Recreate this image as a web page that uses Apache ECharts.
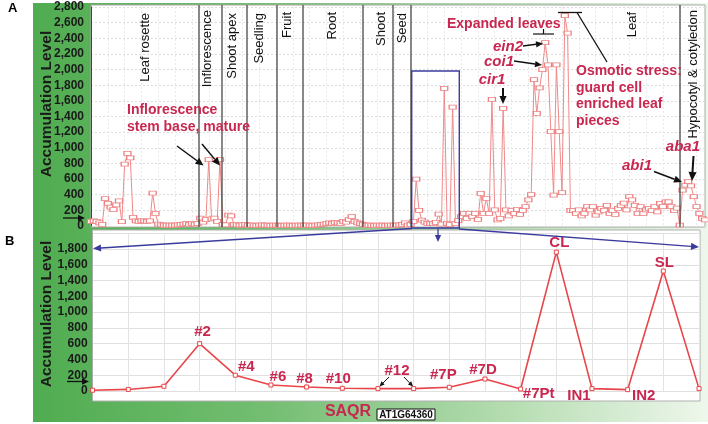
<!DOCTYPE html>
<html><head><meta charset="utf-8">
<script src="https://cdn.jsdelivr.net/npm/echarts@6/dist/echarts.min.js"></script>
<style>html,body{margin:0;padding:0;background:#fff}#c{width:708px;height:424px}</style>
</head><body><div id="c"></div>
<script>
// ---------- DATA ----------
// Panel A: expression across the developmental / tissue atlas (left to right)
const valuesA = [
  60,65,60,40,20,350,290,240,210,270,320,55,790,930,870,110,65,60,65,65,60,65,420,160,25,15,10,10,10,12,10,15,20,25,30,20,35,25,30,
  100,50,80,850,90,100,60,850,20,15,140,130,20,15,10,
  15,20,10,12,10,8,10,15,12,10,8,10,12,10,8,10,12,10,8,10,10,12,
  10,12,10,8,10,15,20,25,30,40,35,45,40,30,60,50,80,120,60,40,30,20,
  10,12,10,8,10,12,10,8,10,12,
  10,12,15,20,40,
  10,20,60,600,200,76,51,34,30,30,47,152,25,1760,30,17,1520,30,
  68,119,162,98,162,119,162,85,418,162,354,160,1620,205,77,98,1505,205,128,196,162,213,150,200,247,333,
  400,1870,1440,1765,2000,2345,2060,1206,396,2060,1206,426,2690,2465,200,
  196,162,205,130,162,247,205,247,140,180,225,200,265,162,196,150,225,260,294,205,375,333,265,162,247,162,205,225,196,247,180,290,247,310,310,247,196,230,
  10,460,524,567,512,375,247,162,98,77
];
const categoriesA = valuesA.map((_, i) => 'S' + (i + 1));

// Panel B: zoomed leaf samples
const pointNamesB = ['', '', '', '#2', '#4', '#6', '#8', '#10', '#12', '', '#7P', '#7D', '#7Pt', 'CL', 'IN1', 'IN2', 'SL', ''];
const valuesB = [10, 20, 60, 600, 200, 76, 51, 34, 30, 30, 47, 152, 25, 1760, 30, 17, 1520, 30];
const categoriesB = valuesB.map((_, i) => 'P' + (i + 1));

const sectionNames = ['Leaf rosette', 'Inflorescence', 'Shoot apex', 'Seedling', 'Fruit', 'Root', 'Shoot', 'Seed', 'Leaf', 'Hypocotyl & cotyledon'];
const yTickStepA = 200, yMaxA = 2800;
const yTickStepB = 200, yMaxB = 2000;

// ---------- STYLE / LAYOUT ----------
const FONT = '"Liberation Sans", Arial, Helvetica, sans-serif';
const CRIMSON = '#C8274F';
const sectionLabelPos = [[145, 13], [207, 10], [232, 13], [259, 13], [287, 12], [332, 12], [381, 12], [402, 13], [632, 12], [693, 10]];
const dividerX = [199, 222, 247, 277, 303, 363, 393, 411, 680];
const labelOffsetB = {'#2': [3, -12], '#4': [11, -8], '#6': [7, -8], '#8': [-2, -8], '#10': [-4, -9], '#12': [19, -18],
  '#7P': [-6, -12], '#7D': [-2, -9], '#7Pt': [18, 5], 'CL': [3, -9], 'IN1': [-13, 7], 'IN2': [16, 6], 'SL': [1, -8]};

function T(x, y, text, o) {
  o = o || {};
  const align = o.align || 'left', valign = o.valign || 'middle';
  return {type: 'text', x: x, y: y, rotation: o.rot || 0, z: 30,
    style: {text: text, fill: o.color || CRIMSON, fontSize: o.size || 14, fontWeight: o.weight || 'bold',
      fontStyle: o.style || 'normal', fontFamily: FONT, textAlign: align, textVerticalAlign: valign,
      align: align, verticalAlign: valign}};
}
function L(x1, y1, x2, y2, color, w) {
  return {type: 'line', z: 25, shape: {x1: x1, y1: y1, x2: x2, y2: y2}, style: {stroke: color, lineWidth: w}};
}
function arrow(x1, y1, x2, y2, color, w, hl) {
  const a = Math.atan2(y2 - y1, x2 - x1);
  const hw = hl * 0.45;
  const bx = x2 - hl * Math.cos(a), by = y2 - hl * Math.sin(a);
  const px = -Math.sin(a) * hw, py = Math.cos(a) * hw;
  return [L(x1, y1, bx, by, color, w),
    {type: 'polygon', z: 25, shape: {points: [[x2, y2], [bx + px, by + py], [bx - px, by - py]]}, style: {fill: color}}];
}

const g = [];
// green frame background
g.push({type: 'rect', z: -10, shape: {x: 33, y: 3, width: 675, height: 419},
  style: {fill: {type: 'linear', x: 0, y: 0, x2: 1, y2: 0, colorStops: [
    {offset: 0, color: '#50AC50'}, {offset: 0.35, color: '#74BE72'}, {offset: 0.7, color: '#B4DCB0'}, {offset: 1, color: '#EEF7EC'}]}}});
// plot areas
g.push({type: 'rect', z: -9, shape: {x: 91, y: 5, width: 614, height: 222}, style: {fill: '#fff', stroke: '#a8a8a8', lineWidth: 1}});
g.push({type: 'rect', z: -9, shape: {x: 92.5, y: 230, width: 607.5, height: 171}, style: {fill: '#fff', stroke: '#b0b0b0', lineWidth: 1}});
// panel letters
g.push(T(8, 8, 'A', {color: '#000', size: 13}));
g.push(T(5, 241, 'B', {color: '#000', size: 13}));
// axis titles
g.push(T(47, 104, 'Accumulation Level', {color: '#1b1b1b', size: 15.5, align: 'center', rot: Math.PI / 2}));
g.push(T(47, 314, 'Accumulation Level', {color: '#1b1b1b', size: 15.5, align: 'center', rot: Math.PI / 2}));
// zero arrows
g.push(...arrow(63, 218, 85, 218, '#111', 1.3, 7));
g.push(...arrow(67, 381.5, 89, 381.5, '#111', 1.3, 7));
// section dividers and labels
dividerX.forEach(x => g.push(L(x, 5, x, 227, '#3a3a3a', 1.2)));
sectionNames.forEach((n, i) => g.push(T(sectionLabelPos[i][0], sectionLabelPos[i][1], n,
  {color: '#111', size: 13, weight: 'normal', align: 'right', rot: Math.PI / 2})));
// annotations panel A
g.push(T(127, 110, 'Inflorescence', {size: 14}));
g.push(T(127, 127, 'stem base, mature', {size: 14}));
g.push(...arrow(177, 146, 203.5, 165.5, '#111', 1.5, 8));
g.push(...arrow(202, 144, 220, 165.5, '#111', 1.5, 8));
g.push(T(447, 24, 'Expanded leaves', {size: 14}));
g.push(L(533, 34, 554, 34, '#111', 1.2));
g.push(L(543.5, 29, 543.5, 34, '#111', 1.2));
g.push(T(523, 47, 'ein2', {size: 15, style: 'italic', align: 'right'}));
g.push(...arrow(523, 46, 543, 43.5, '#111', 1.5, 7));
g.push(T(514, 62, 'coi1', {size: 15, style: 'italic', align: 'right'}));
g.push(...arrow(514, 61, 542, 65, '#111', 1.5, 7));
g.push(T(492, 80, 'cir1', {size: 15, style: 'italic', align: 'center'}));
g.push(...arrow(503, 88, 503, 104, '#111', 2, 8));
g.push(L(558, 12.5, 582, 12.5, '#111', 1.3));
g.push(L(577, 12.5, 607, 62, '#111', 1.3));
['Osmotic stress:', 'guard cell', 'enriched leaf', 'pieces'].forEach((t, i) => g.push(T(576, 71 + i * 16.8, t, {size: 14})));
g.push(T(652, 166, 'abi1', {size: 15, style: 'italic', align: 'right'}));
g.push(...arrow(654, 171.5, 682, 182, '#111', 1.6, 8));
g.push(T(700, 147, 'aba1', {size: 15, style: 'italic', align: 'right'}));
g.push(...arrow(693.5, 156, 692, 181, '#111', 2, 9));
// zoom box and connectors
g.push({type: 'rect', z: 26, shape: {x: 411.7, y: 71, width: 47.6, height: 157}, style: {fill: 'none', stroke: '#3B3B9E', lineWidth: 1.4}});
g.push(...arrow(412, 228.5, 93, 248.5, '#3B3B9E', 1.3, 8));
g.push(...arrow(459, 229, 699, 247, '#3B3B9E', 1.3, 8));
g.push(...arrow(438, 229, 438, 242, '#3B3B9E', 1.3, 7));
// #12 pointers
g.push(...arrow(389, 377, 379.5, 386.5, '#111', 1, 5));
g.push(...arrow(404, 377, 413, 386.5, '#111', 1, 5));
// gene label
g.push(T(348, 412, 'SAQR', {size: 16, align: 'center'}));
g.push({type: 'rect', z: 28, shape: {x: 377, y: 409, width: 58, height: 11}, style: {fill: '#fff', stroke: '#111', lineWidth: 1}});
g.push(T(406, 414.8, 'AT1G64360', {size: 10, color: '#111', align: 'center'}));

const axisLabelStyle = {color: '#1a1a1a', fontWeight: 'bold', fontSize: 12, fontFamily: FONT,
  formatter: v => Number(v).toLocaleString('en-US')};

const option = {
  animation: false,
  backgroundColor: '#fff',
  grid: [
    {left: 91, right: 3, top: 7, height: 219, show: false},
    {left: 92.6, right: 9, top: 233.2, height: 157.8, show: false}
  ],
  xAxis: [
    {type: 'category', gridIndex: 0, data: categoriesA, boundaryGap: false,
      axisLine: {show: false}, axisTick: {show: false}, axisLabel: {show: false},
      splitLine: {show: true, interval: 5, lineStyle: {color: '#e9e9e9', type: [2, 2]}}},
    {type: 'category', gridIndex: 1, data: categoriesB, boundaryGap: false,
      axisLine: {show: false}, axisTick: {show: false}, axisLabel: {show: false},
      splitLine: {show: true, lineStyle: {color: '#e3e3e3', width: 1}}}
  ],
  yAxis: [
    {type: 'value', gridIndex: 0, min: 0, max: yMaxA, interval: yTickStepA,
      axisLine: {show: true, lineStyle: {color: '#444', width: 1}}, axisTick: {show: false},
      axisLabel: Object.assign({margin: 7}, axisLabelStyle),
      splitLine: {show: true, lineStyle: {color: '#dcdcdc', type: [2, 2]}}},
    {type: 'value', gridIndex: 1, min: 0, max: yMaxB, interval: yTickStepB,
      axisLine: {show: true, lineStyle: {color: '#aaa', width: 1}}, axisTick: {show: false},
      axisLabel: Object.assign({margin: 5, showMaxLabel: false}, axisLabelStyle),
      splitLine: {show: true, lineStyle: {color: '#e0e0e0'}}}
  ],
  series: [
    {type: 'line', xAxisIndex: 0, yAxisIndex: 0, data: valuesA, clip: false,
      symbol: 'rect', symbolSize: [7, 4], showAllSymbol: true, z: 5,
      lineStyle: {color: '#F08A8A', width: 1},
      itemStyle: {color: '#fff', borderColor: '#EE8080', borderWidth: 1}},
    {type: 'line', xAxisIndex: 1, yAxisIndex: 1, clip: false,
      symbol: 'rect', symbolSize: 4, showAllSymbol: true, z: 5,
      lineStyle: {color: '#E8454A', width: 1.6},
      itemStyle: {color: '#fff', borderColor: '#E8454A', borderWidth: 1},
      data: valuesB.map((v, i) => {
        const n = pointNamesB[i];
        return {value: v, label: {show: !!n, formatter: n, position: 'inside', offset: labelOffsetB[n] || [0, 0],
          color: CRIMSON, fontWeight: 'bold', fontSize: 15, fontFamily: FONT}};
      })}
  ],
  graphic: {elements: g}
};
const chart = echarts.init(document.getElementById('c'), null, {renderer: 'canvas'});
chart.setOption(option);
</script></body></html>
